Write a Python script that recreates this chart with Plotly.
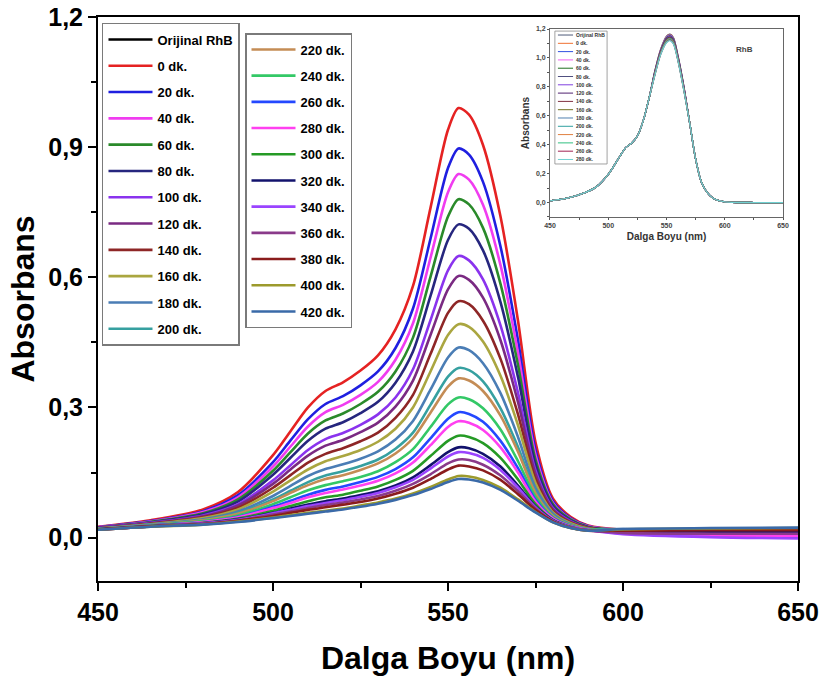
import plotly.graph_objects as go

# ---------------- data ----------------
wavelength = [450, 465, 480, 490, 500, 505, 510, 515, 520, 525, 530, 535, 540, 545,
              550, 553, 556, 560, 565, 570, 575, 580, 585, 590, 600, 625, 650]

labels_col1 = ["Orijinal RhB", "0 dk.", "20 dk.", "40 dk.", "60 dk.", "80 dk.", "100 dk.",
               "120 dk.", "140 dk.", "160 dk.", "180 dk.", "200 dk."]
labels_col2 = ["220 dk.", "240 dk.", "260 dk.", "280 dk.", "300 dk.", "320 dk.", "340 dk.",
               "360 dk.", "380 dk.", "400 dk.", "420 dk."]

abs_orijinal = [None] * len(wavelength)  # listed in legend only, not drawn in the main panel
abs_0 = [0.025, 0.040, 0.065, 0.105, 0.190, 0.245, 0.300, 0.338, 0.358, 0.385, 0.420, 0.480, 0.580, 0.760, 0.940, 0.990, 0.975, 0.905, 0.740, 0.500, 0.220, 0.090, 0.048, 0.028, 0.018, 0.016, 0.015]
abs_20 = [0.024, 0.038, 0.061, 0.098, 0.174, 0.224, 0.273, 0.308, 0.326, 0.351, 0.383, 0.437, 0.528, 0.689, 0.852, 0.897, 0.883, 0.820, 0.671, 0.455, 0.202, 0.084, 0.045, 0.027, 0.017, 0.016, 0.015]
abs_40 = [0.024, 0.037, 0.059, 0.093, 0.164, 0.210, 0.256, 0.289, 0.306, 0.329, 0.359, 0.410, 0.494, 0.645, 0.796, 0.838, 0.825, 0.767, 0.628, 0.426, 0.191, 0.080, 0.043, 0.026, 0.017, 0.015, 0.014]
abs_60 = [0.023, 0.036, 0.056, 0.088, 0.154, 0.197, 0.240, 0.270, 0.286, 0.308, 0.336, 0.383, 0.461, 0.601, 0.740, 0.780, 0.768, 0.714, 0.585, 0.398, 0.180, 0.077, 0.042, 0.025, 0.017, 0.015, 0.014]
abs_80 = [0.023, 0.035, 0.054, 0.083, 0.145, 0.184, 0.223, 0.251, 0.266, 0.287, 0.313, 0.357, 0.429, 0.557, 0.686, 0.722, 0.712, 0.662, 0.543, 0.370, 0.169, 0.073, 0.040, 0.024, 0.016, 0.015, 0.014]
abs_100 = [0.022, 0.034, 0.051, 0.077, 0.132, 0.167, 0.202, 0.227, 0.241, 0.260, 0.284, 0.323, 0.388, 0.501, 0.616, 0.649, 0.639, 0.595, 0.489, 0.334, 0.155, 0.068, 0.038, 0.023, 0.010, 0.003, 0.001]
abs_120 = [0.022, 0.033, 0.049, 0.074, 0.124, 0.157, 0.189, 0.212, 0.225, 0.243, 0.265, 0.302, 0.362, 0.467, 0.572, 0.603, 0.594, 0.553, 0.455, 0.312, 0.147, 0.065, 0.036, 0.023, 0.012, 0.006, 0.004]
abs_140 = [0.021, 0.032, 0.047, 0.069, 0.115, 0.144, 0.173, 0.193, 0.206, 0.222, 0.242, 0.276, 0.329, 0.423, 0.518, 0.545, 0.538, 0.500, 0.412, 0.284, 0.136, 0.061, 0.035, 0.022, 0.016, 0.014, 0.014]
abs_160 = [0.021, 0.031, 0.045, 0.065, 0.106, 0.132, 0.157, 0.176, 0.188, 0.202, 0.221, 0.251, 0.300, 0.383, 0.467, 0.492, 0.486, 0.452, 0.373, 0.259, 0.126, 0.058, 0.033, 0.021, 0.016, 0.015, 0.015]
abs_180 = [0.020, 0.030, 0.042, 0.060, 0.096, 0.119, 0.142, 0.158, 0.169, 0.182, 0.199, 0.226, 0.269, 0.341, 0.415, 0.438, 0.432, 0.402, 0.333, 0.232, 0.115, 0.055, 0.031, 0.020, 0.020, 0.019, 0.019]
abs_200 = [0.020, 0.030, 0.040, 0.057, 0.088, 0.108, 0.128, 0.143, 0.153, 0.165, 0.180, 0.205, 0.242, 0.306, 0.371, 0.391, 0.386, 0.360, 0.298, 0.209, 0.106, 0.051, 0.030, 0.020, 0.018, 0.018, 0.018]
abs_220 = [0.020, 0.029, 0.040, 0.055, 0.084, 0.103, 0.121, 0.135, 0.144, 0.156, 0.171, 0.194, 0.229, 0.288, 0.348, 0.367, 0.362, 0.338, 0.281, 0.198, 0.102, 0.050, 0.029, 0.019, 0.015, 0.014, 0.014]
abs_240 = [0.020, 0.028, 0.038, 0.051, 0.077, 0.093, 0.109, 0.121, 0.130, 0.140, 0.153, 0.174, 0.204, 0.255, 0.307, 0.323, 0.319, 0.298, 0.249, 0.176, 0.094, 0.047, 0.028, 0.019, 0.016, 0.015, 0.015]
abs_260 = [0.019, 0.028, 0.036, 0.048, 0.071, 0.085, 0.099, 0.110, 0.118, 0.128, 0.140, 0.158, 0.185, 0.229, 0.274, 0.289, 0.285, 0.267, 0.223, 0.160, 0.087, 0.045, 0.027, 0.018, 0.014, 0.013, 0.013]
abs_280 = [0.019, 0.027, 0.036, 0.047, 0.068, 0.080, 0.093, 0.103, 0.111, 0.120, 0.131, 0.148, 0.173, 0.213, 0.255, 0.268, 0.265, 0.248, 0.208, 0.150, 0.083, 0.044, 0.026, 0.018, 0.009, 0.005, 0.004]
abs_300 = [0.019, 0.027, 0.034, 0.044, 0.062, 0.073, 0.084, 0.093, 0.099, 0.108, 0.118, 0.133, 0.154, 0.188, 0.223, 0.235, 0.232, 0.218, 0.184, 0.134, 0.077, 0.041, 0.025, 0.017, 0.015, 0.015, 0.015]
abs_320 = [0.019, 0.026, 0.033, 0.042, 0.057, 0.067, 0.076, 0.084, 0.090, 0.098, 0.107, 0.120, 0.139, 0.167, 0.197, 0.208, 0.206, 0.193, 0.164, 0.120, 0.072, 0.040, 0.024, 0.017, 0.013, 0.012, 0.012]
abs_340 = [0.018, 0.026, 0.033, 0.041, 0.056, 0.064, 0.073, 0.080, 0.086, 0.094, 0.103, 0.116, 0.133, 0.159, 0.187, 0.197, 0.195, 0.184, 0.156, 0.115, 0.070, 0.039, 0.024, 0.017, 0.008, 0.001, -0.002]
abs_360 = [0.018, 0.026, 0.032, 0.040, 0.053, 0.060, 0.068, 0.075, 0.081, 0.088, 0.096, 0.108, 0.124, 0.146, 0.171, 0.180, 0.179, 0.168, 0.143, 0.107, 0.067, 0.038, 0.023, 0.017, 0.011, 0.009, 0.009]
abs_380 = [0.018, 0.026, 0.031, 0.039, 0.050, 0.057, 0.064, 0.070, 0.076, 0.082, 0.090, 0.101, 0.115, 0.135, 0.157, 0.166, 0.164, 0.155, 0.133, 0.100, 0.064, 0.037, 0.023, 0.016, 0.016, 0.017, 0.017]
abs_400 = [0.018, 0.025, 0.030, 0.037, 0.046, 0.052, 0.057, 0.062, 0.067, 0.074, 0.081, 0.090, 0.102, 0.117, 0.134, 0.142, 0.141, 0.133, 0.115, 0.088, 0.059, 0.035, 0.022, 0.016, 0.019, 0.021, 0.022]
abs_420 = [0.018, 0.025, 0.030, 0.036, 0.045, 0.050, 0.055, 0.060, 0.065, 0.071, 0.078, 0.087, 0.098, 0.112, 0.128, 0.135, 0.134, 0.127, 0.110, 0.085, 0.058, 0.035, 0.022, 0.016, 0.020, 0.022, 0.023]

main_colors = ["#000000", "#e52222", "#1f1fe0", "#f03cf0", "#2a8a2a", "#26267e", "#8a33ee",
               "#7a2a82", "#8e2626", "#aaa640", "#4a7db5", "#36a0a0",
               "#c48c55", "#33c866", "#2448ff", "#ff40f0", "#259a25", "#12126c", "#9a44ff",
               "#8a3a8a", "#8a1c1c", "#9c9a2c", "#3a6aa8"]

# inset (RhB without treatment)
inset_labels = ["Orijinal RhB", "0 dk.", "20 dk.", "40 dk.", "60 dk.", "80 dk.", "100 dk.", "120 dk.",
                "140 dk.", "160 dk.", "180 dk.", "200 dk.", "220 dk.", "240 dk.", "260 dk.", "280 dk."]
ins_orijinal = [0.012, 0.030, 0.068, 0.110, 0.195, 0.255, 0.320, 0.380, 0.410, 0.460, 0.565, 0.720, 0.910, 1.060, 1.150, 1.165, 1.140, 1.010, 0.800, 0.545, 0.300, 0.140, 0.068, 0.030, 0.005, 0.000, 0.000]
ins_0 = [0.012, 0.030, 0.068, 0.110, 0.195, 0.255, 0.320, 0.380, 0.410, 0.460, 0.565, 0.720, 0.908, 1.058, 1.147, 1.162, 1.137, 1.008, 0.798, 0.545, 0.300, 0.140, 0.068, 0.030, 0.005, 0.000, 0.000]
ins_20 = [0.012, 0.030, 0.068, 0.110, 0.195, 0.255, 0.320, 0.380, 0.410, 0.460, 0.565, 0.720, 0.906, 1.055, 1.144, 1.159, 1.134, 1.005, 0.796, 0.545, 0.300, 0.140, 0.068, 0.030, 0.005, 0.000, 0.000]
ins_40 = [0.012, 0.030, 0.068, 0.110, 0.195, 0.255, 0.320, 0.380, 0.410, 0.460, 0.565, 0.720, 0.904, 1.053, 1.141, 1.156, 1.131, 1.003, 0.794, 0.545, 0.300, 0.140, 0.068, 0.030, 0.005, 0.000, 0.000]
ins_60 = [0.012, 0.030, 0.068, 0.110, 0.195, 0.255, 0.320, 0.380, 0.410, 0.460, 0.565, 0.720, 0.902, 1.050, 1.138, 1.153, 1.128, 1.000, 0.792, 0.545, 0.300, 0.140, 0.068, 0.030, 0.005, 0.000, 0.000]
ins_80 = [0.012, 0.030, 0.068, 0.110, 0.195, 0.255, 0.320, 0.380, 0.410, 0.460, 0.565, 0.720, 0.900, 1.048, 1.135, 1.150, 1.125, 0.998, 0.790, 0.545, 0.300, 0.140, 0.068, 0.030, 0.005, 0.000, 0.000]
ins_100 = [0.012, 0.030, 0.068, 0.110, 0.195, 0.255, 0.320, 0.380, 0.410, 0.460, 0.565, 0.720, 0.898, 1.045, 1.132, 1.147, 1.122, 0.995, 0.788, 0.545, 0.300, 0.140, 0.068, 0.030, 0.005, 0.000, 0.000]
ins_120 = [0.012, 0.030, 0.068, 0.110, 0.195, 0.255, 0.320, 0.380, 0.410, 0.460, 0.565, 0.720, 0.896, 1.043, 1.129, 1.144, 1.119, 0.993, 0.786, 0.545, 0.300, 0.140, 0.068, 0.030, 0.005, 0.000, 0.000]
ins_140 = [0.012, 0.030, 0.068, 0.110, 0.195, 0.255, 0.320, 0.380, 0.410, 0.460, 0.565, 0.720, 0.894, 1.040, 1.126, 1.141, 1.116, 0.990, 0.784, 0.545, 0.300, 0.140, 0.068, 0.030, 0.005, 0.000, 0.000]
ins_160 = [0.012, 0.030, 0.068, 0.110, 0.195, 0.255, 0.320, 0.380, 0.410, 0.460, 0.565, 0.720, 0.892, 1.038, 1.123, 1.138, 1.113, 0.988, 0.782, 0.545, 0.300, 0.140, 0.068, 0.030, 0.005, 0.000, 0.000]
ins_180 = [0.012, 0.030, 0.068, 0.110, 0.195, 0.255, 0.320, 0.380, 0.410, 0.460, 0.565, 0.720, 0.890, 1.035, 1.120, 1.135, 1.110, 0.985, 0.780, 0.545, 0.300, 0.140, 0.068, 0.030, 0.005, 0.000, 0.000]
ins_200 = [0.012, 0.030, 0.068, 0.110, 0.195, 0.255, 0.320, 0.380, 0.410, 0.460, 0.565, 0.720, 0.888, 1.033, 1.117, 1.132, 1.107, 0.983, 0.778, 0.545, 0.300, 0.140, 0.068, 0.030, 0.005, 0.000, 0.000]
ins_220 = [0.012, 0.030, 0.068, 0.110, 0.195, 0.255, 0.320, 0.380, 0.410, 0.460, 0.565, 0.720, 0.886, 1.030, 1.114, 1.129, 1.104, 0.980, 0.776, 0.545, 0.300, 0.140, 0.068, 0.030, 0.005, 0.000, 0.000]
ins_240 = [0.012, 0.030, 0.068, 0.110, 0.195, 0.255, 0.320, 0.380, 0.410, 0.460, 0.565, 0.720, 0.884, 1.028, 1.111, 1.126, 1.101, 0.978, 0.774, 0.545, 0.300, 0.140, 0.068, 0.030, 0.005, 0.000, 0.000]
ins_260 = [0.012, 0.030, 0.068, 0.110, 0.195, 0.255, 0.320, 0.380, 0.410, 0.460, 0.565, 0.720, 0.882, 1.025, 1.108, 1.123, 1.098, 0.975, 0.772, 0.545, 0.300, 0.140, 0.068, 0.030, 0.005, 0.000, 0.000]
ins_280 = [0.012, 0.030, 0.068, 0.110, 0.195, 0.255, 0.320, 0.380, 0.410, 0.460, 0.565, 0.720, 0.880, 1.023, 1.105, 1.120, 1.095, 0.973, 0.770, 0.545, 0.300, 0.140, 0.068, 0.030, 0.005, 0.000, 0.000]

inset_colors = ["#4d5a78", "#f07030", "#3050e0", "#f060f0", "#207020", "#505080", "#8040e0", "#502070",
                "#803040", "#707020", "#5080b0", "#30a0a0", "#e08040", "#30c080", "#a02050", "#70d0d0"]

main_series = [abs_orijinal, abs_0, abs_20, abs_40, abs_60, abs_80, abs_100, abs_120, abs_140,
               abs_160, abs_180, abs_200, abs_220, abs_240, abs_260, abs_280, abs_300, abs_320,
               abs_340, abs_360, abs_380, abs_400, abs_420]
inset_series = [ins_orijinal, ins_0, ins_20, ins_40, ins_60, ins_80, ins_100, ins_120, ins_140,
                ins_160, ins_180, ins_200, ins_220, ins_240, ins_260, ins_280]

FONT = "Liberation Sans, Arial, sans-serif"

fig = go.Figure()

all_labels = labels_col1 + labels_col2
for i, (name, ys, col) in enumerate(zip(all_labels, main_series, main_colors)):
    fig.add_trace(go.Scatter(
        x=wavelength, y=ys, mode="lines", name=name,
        line=dict(color=col, width=2.6, shape="spline", smoothing=0.8),
        legend="legend" if i < len(labels_col1) else "legend2",
        legendgroup=name, xaxis="x", yaxis="y",
    ))

for name, ys, col in zip(inset_labels, inset_series, inset_colors):
    fig.add_trace(go.Scatter(
        x=wavelength, y=ys, mode="lines", name=name, showlegend=False,
        line=dict(color=col, width=1.3, shape="spline", smoothing=0.8),
        xaxis="x2", yaxis="y2", hoverinfo="skip",
    ))

# ---------------- inset legend (drawn by hand: too small for a plotly legend) ----------------
shapes = [dict(type="rect", xref="x2 domain", yref="y2 domain", x0=0.021, x1=0.245, y0=0.282, y1=0.989,
               line=dict(color="#8a8a8a", width=0.8), fillcolor="white", layer="above")]
annotations = []
n_ins = len(inset_labels)
for i, (name, col) in enumerate(zip(inset_labels, inset_colors)):
    yy = 0.968 - i * (0.962 - 0.300) / (n_ins - 1)
    shapes.append(dict(type="line", xref="x2 domain", yref="y2 domain", x0=0.034, x1=0.099, y0=yy, y1=yy,
                       line=dict(color=col, width=1), layer="above"))
    annotations.append(dict(xref="x2 domain", yref="y2 domain", x=0.104, y=yy, text=name, showarrow=False,
                            xanchor="left", yanchor="middle",
                            font=dict(family=FONT, size=5, color="#333", weight="bold")))
annotations.append(dict(xref="x2 domain", yref="y2 domain", x=0.88, y=0.925, text="RhB", showarrow=False,
                        font=dict(family=FONT, size=8, color="#444", weight="bold")))

axis_common = dict(showgrid=False, zeroline=False, showline=True, mirror=True, automargin=False)

fig.update_layout(
    width=820, height=680,
    margin=dict(l=98, r=22, t=17, b=99, autoexpand=False),
    paper_bgcolor="white", plot_bgcolor="white",
    separators=", ",
    font=dict(family=FONT, color="black"),
    showlegend=True,
    xaxis=dict(
        **axis_common, range=[450, 650], tick0=450, dtick=50,
        ticks="outside", ticklen=8, tickwidth=2, tickcolor="black",
        linecolor="black", linewidth=2,
        tickfont=dict(family=FONT, size=25, weight="bold"),
        minor=dict(dtick=25, ticks="outside", ticklen=5, tickwidth=2, tickcolor="black", showgrid=False),
        title=dict(text="Dalga Boyu (nm)", font=dict(family=FONT, size=32, weight="bold"), standoff=22),
    ),
    yaxis=dict(
        **axis_common, range=[-0.1, 1.2], tick0=0, dtick=0.3, tickformat=".1f",
        ticks="outside", ticklen=8, tickwidth=2, tickcolor="black",
        linecolor="black", linewidth=2,
        tickfont=dict(family=FONT, size=25, weight="bold"),
        minor=dict(dtick=0.15, ticks="outside", ticklen=5, tickwidth=2, tickcolor="black", showgrid=False),
        title=dict(text="Absorbans", font=dict(family=FONT, size=32, weight="bold"), standoff=4),
    ),
    xaxis2=dict(
        **axis_common, domain=[0.6457, 0.9786], anchor="y2", range=[450, 650], tick0=450, dtick=50,
        ticks="outside", ticklen=2, tickwidth=0.8, tickcolor="#555", linecolor="#666", linewidth=0.8,
        tickfont=dict(family=FONT, size=7, color="#444", weight="bold"),
        minor=dict(dtick=25, ticks="outside", ticklen=2, tickwidth=0.8, tickcolor="#555"),
        title=dict(text="Dalga Boyu (nm)", font=dict(family=FONT, size=10, color="#333", weight="bold"), standoff=4),
    ),
    yaxis2=dict(
        **axis_common, domain=[0.6454, 0.9787], anchor="x2", range=[-0.1, 1.2], tick0=0, dtick=0.2,
        tickformat=".1f",
        ticks="outside", ticklen=2, tickwidth=0.8, tickcolor="#555", linecolor="#666", linewidth=0.8,
        tickfont=dict(family=FONT, size=7, color="#444", weight="bold"),
        minor=dict(dtick=0.1, ticks="outside", ticklen=2, tickwidth=0.8, tickcolor="#555"),
        title=dict(text="Absorbans", font=dict(family=FONT, size=10, color="#333", weight="bold"), standoff=4),
    ),
    legend=dict(
        x=0.0057, y=0.9894, xanchor="left", yanchor="top",
        bgcolor="white", bordercolor="#7a7a7a", borderwidth=1.5,
        font=dict(family=FONT, size=13, color="black", weight="bold"),
        itemwidth=44, tracegroupgap=6.4, traceorder="grouped",
    ),
    legend2=dict(
        x=0.21, y=0.9716, xanchor="left", yanchor="top",
        bgcolor="white", bordercolor="#7a7a7a", borderwidth=1.5,
        font=dict(family=FONT, size=13, color="black", weight="bold"),
        itemwidth=44, tracegroupgap=6.3, traceorder="grouped",
    ),
    shapes=shapes,
    annotations=annotations,
)

fig.write_html("out.html")
